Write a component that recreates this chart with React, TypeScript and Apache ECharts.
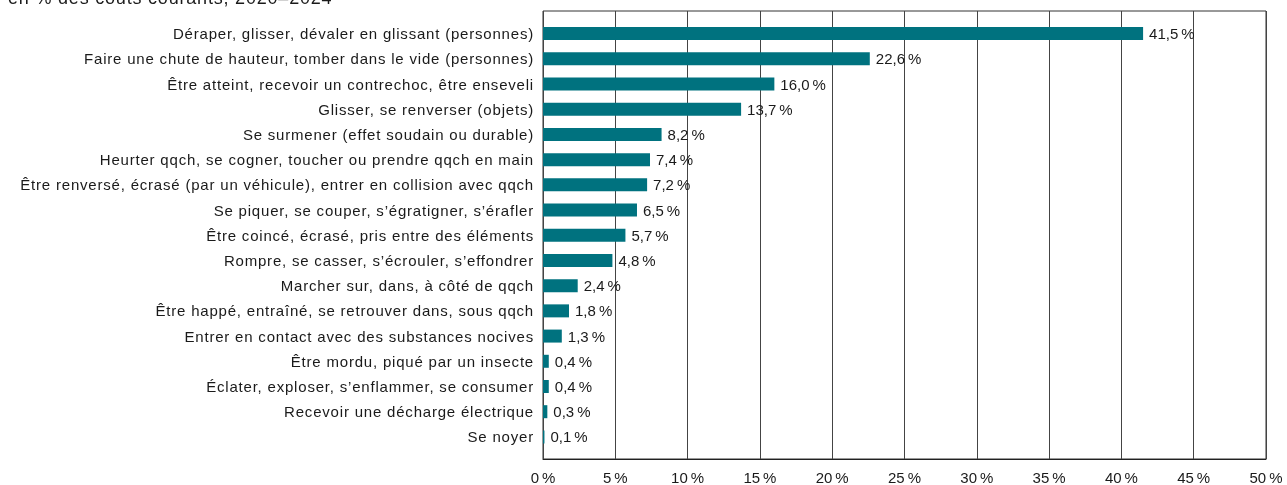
import React, { useEffect, useRef } from "react";
import * as echarts from "echarts";

const categories = [
  "Déraper, glisser, dévaler en glissant (personnes)",
  "Faire une chute de hauteur, tomber dans le vide (personnes)",
  "Être atteint, recevoir un contrechoc, être enseveli",
  "Glisser, se renverser (objets)",
  "Se surmener (effet soudain ou durable)",
  "Heurter qqch, se cogner, toucher ou prendre qqch en main",
  "Être renversé, écrasé (par un véhicule), entrer en collision avec qqch",
  "Se piquer, se couper, s’égratigner, s’érafler",
  "Être coincé, écrasé, pris entre des éléments",
  "Rompre, se casser, s’écrouler, s’effondrer",
  "Marcher sur, dans, à côté de qqch",
  "Être happé, entraîné, se retrouver dans, sous qqch",
  "Entrer en contact avec des substances nocives",
  "Être mordu, piqué par un insecte",
  "Éclater, exploser, s’enflammer, se consumer",
  "Recevoir une décharge électrique",
  "Se noyer",
];

const values = [41.5, 22.6, 16.0, 13.7, 8.2, 7.4, 7.2, 6.5, 5.7, 4.8, 2.4, 1.8, 1.3, 0.4, 0.4, 0.3, 0.1];

const subtitle = "en % des coûts courants, 2020–2024";

const FONT = "'Liberation Sans', Arial, Helvetica, sans-serif";
const NNBSP = "\u202F";

export default function App() {
  const ref = useRef<HTMLDivElement>(null);
  useEffect(() => {
    if (!ref.current) return;
    const chart = echarts.init(ref.current, undefined, { renderer: "svg" });
    chart.setOption({
      animation: false,
      textStyle: { fontFamily: FONT },
      graphic: [
        {
          type: "text",
          left: 8,
          top: -11.5,
          style: { text: subtitle, font: `18px ${FONT}`, fill: "#1a1a1a" },
        },
      ],
      grid: [
        { left: 543, right: 21, top: 21, height: 428.5, containLabel: false },
        {
          left: 543,
          right: 21,
          top: 11,
          bottom: 26,
          show: true,
          borderColor: "#333",
          borderWidth: 1,
          backgroundColor: "transparent",
        },
      ],
      xAxis: [
        { type: "value", gridIndex: 0, min: 0, max: 50, interval: 5, show: false },
        {
          type: "value",
          gridIndex: 1,
          min: 0,
          max: 50,
          interval: 5,
          axisLine: { show: true, lineStyle: { color: "#222" } },
          axisTick: { show: false },
          axisLabel: {
            fontSize: 15,
            fontFamily: FONT,
            color: "#1a1a1a",
            margin: 11,
            formatter: (v: number) => `${v}${NNBSP}%`,
          },
          splitLine: { show: true, lineStyle: { color: "#444", width: 1 } },
        },
      ],
      yAxis: [
        {
          type: "category",
          gridIndex: 0,
          inverse: true,
          data: categories,
          axisLine: { show: false },
          axisTick: { show: false },
          axisLabel: { fontSize: 15, fontFamily: FONT, color: "#1a1a1a", margin: 9 },
        },
        { type: "value", gridIndex: 1, show: false, min: 0, max: 1 },
      ],
      series: [
        {
          type: "bar",
          xAxisIndex: 0,
          yAxisIndex: 0,
          data: values,
          barWidth: 13,
          itemStyle: { color: "#00727f" },
          z: 5,
          label: {
            show: true,
            position: "right",
            distance: 6,
            fontSize: 15,
            fontFamily: FONT,
            color: "#1a1a1a",
            formatter: (p: any) => `${p.value.toFixed(1).replace(".", ",")}${NNBSP}%`,
          },
        },
      ],
    });
    return () => chart.dispose();
  }, []);
  return (
    <>
      <style>{"#chart-root svg text { letter-spacing: 0.8px !important; }"}</style>
      <div
        id="chart-root"
        ref={ref}
        style={{ position: "fixed", left: 0, top: 0, width: 1287, height: 485 }}
      />
    </>
  );
}
